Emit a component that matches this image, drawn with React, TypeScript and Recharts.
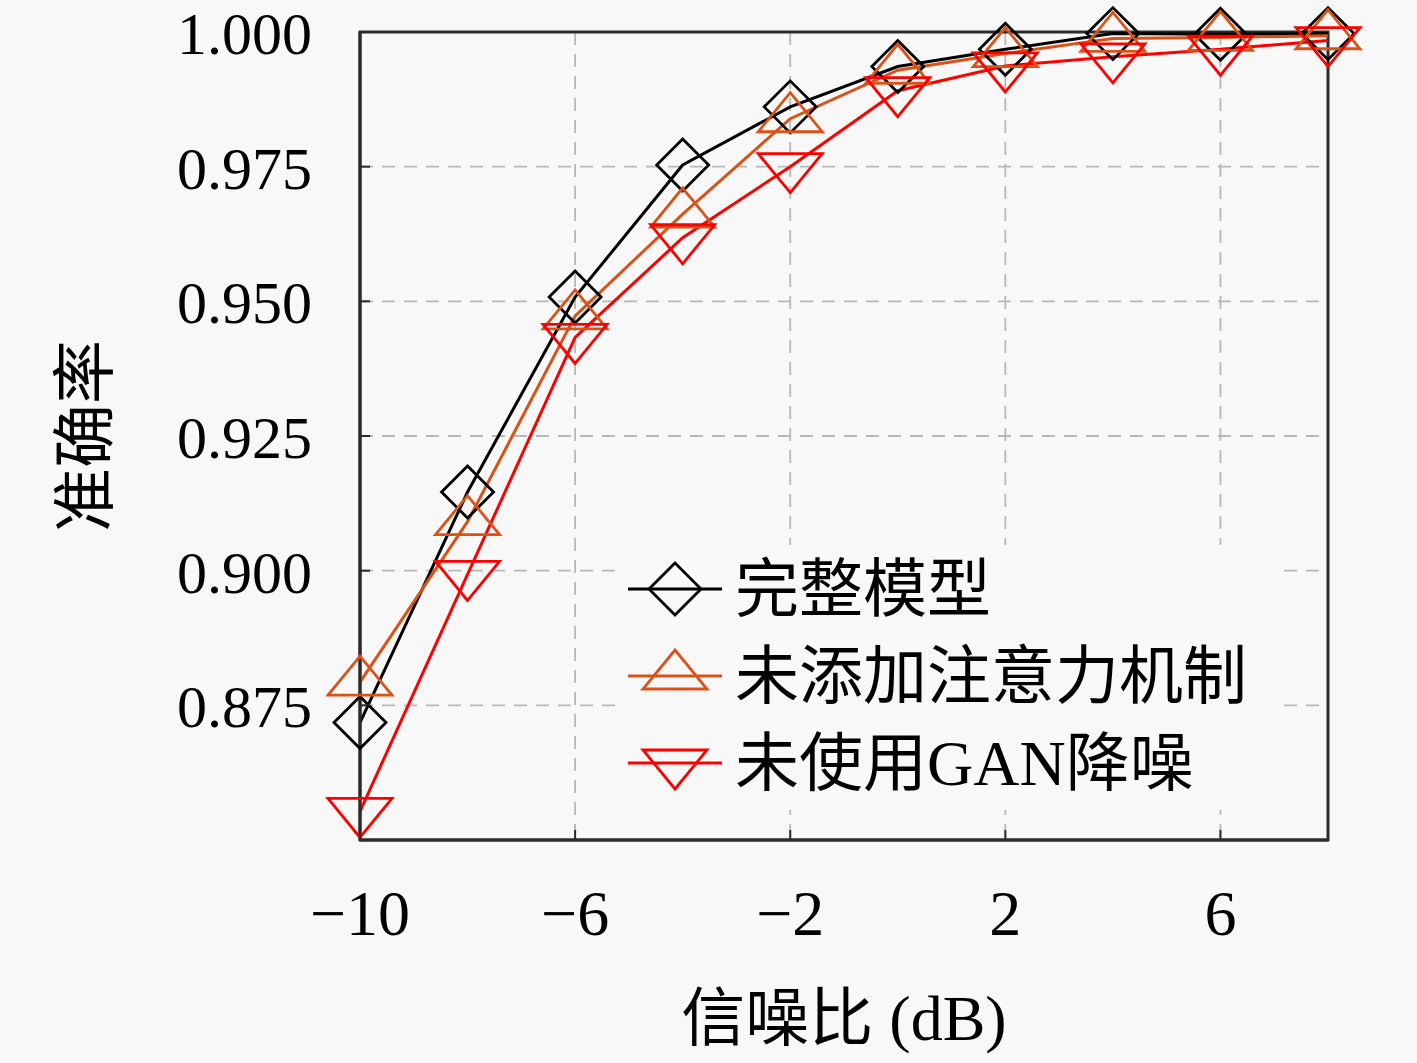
import React from "react";
import {
  LineChart, Line, XAxis, YAxis, CartesianGrid, Legend, ReferenceArea, Label,
} from "recharts";

// SNR (dB) sample points
const snr = [-10, -8, -6, -4, -2, 0, 2, 4, 6, 8];

// accuracy per model variant
const fullModel = [0.8718, 0.9146, 0.9508, 0.9753, 0.9861, 0.9936, 0.9968, 0.9997, 0.9996, 0.9997];
const noAttention = [0.8793, 0.9091, 0.9473, 0.9662, 0.9839, 0.9929, 0.996, 0.9988, 0.999, 0.9993];
const noGan = [0.8553, 0.8993, 0.9433, 0.9618, 0.975, 0.9891, 0.9937, 0.9954, 0.9968, 0.9984];

const xTicks = [-10, -6, -2, 2, 6];
const yTicks = [0.875, 0.9, 0.925, 0.95, 0.975, 1.0];

const BG = "#f8f8f8";
const FONT = "'Liberation Serif', 'Noto Sans CJK SC', serif";

const SERIES = [
  { key: "full", name: "完整模型", color: "#000000", marker: "diamond" },
  { key: "noAttn", name: "未添加注意力机制", color: "#D95319", marker: "up" },
  { key: "noGan", name: "未使用GAN降噪", color: "#FF0000", marker: "down" },
];

const data = snr.map((x, i) => ({
  snr: x,
  full: fullModel[i],
  noAttn: noAttention[i],
  noGan: noGan[i],
}));

function markerPath(type: string, cx: number, cy: number) {
  if (type === "diamond") {
    const r = 26;
    return `M${cx},${cy - r}L${cx + r},${cy}L${cx},${cy + r}L${cx - r},${cy}Z`;
  }
  const w = 32;
  const h = 39;
  if (type === "up") {
    return `M${cx},${cy - (2 * h) / 3}L${cx + w},${cy + h / 3}L${cx - w},${cy + h / 3}Z`;
  }
  return `M${cx},${cy + (2 * h) / 3}L${cx + w},${cy - h / 3}L${cx - w},${cy - h / 3}Z`;
}

const makeDot = (marker: string, color: string, key: string) => (props: any) => {
  const { cx, cy, index } = props;
  if (cx == null || cy == null) return <g key={`${key}-${index}`} />;
  return (
    <path
      key={`${key}-${index}`}
      d={markerPath(marker, cx, cy)}
      fill="none"
      stroke={color}
      strokeWidth={2.8}
    />
  );
};

const YTick = (props: any) => {
  const { x, y, payload } = props;
  return (
    <g>
      <line x1={x} x2={x + 10} y1={y} y2={y} stroke="#2b2b2b" strokeWidth={2} />
      <text x={x - 48} y={y + 22} textAnchor="end" fontSize={60} fontFamily={FONT} fill="#000">
        {payload.value.toFixed(3)}
      </text>
    </g>
  );
};

const XTick = (props: any) => {
  const { x, y, payload } = props;
  const v = payload.value;
  const label = v < 0 ? `\u2212${Math.abs(v)}` : `${v}`;
  return (
    <g>
      <line x1={x} x2={x} y1={y} y2={y - 10} stroke="#2b2b2b" strokeWidth={2} />
      <text x={x} y={y + 95} textAnchor="middle" fontSize={64} fontFamily={FONT} fill="#000">
        {label}
      </text>
    </g>
  );
};

const renderLegend = (props: any) => {
  const payload = props.payload || [];
  return (
    <svg width={660} height={265} style={{ display: "block" }}>
      <rect x={0} y={0} width={660} height={265} fill={BG} />
      {SERIES.map((s, i) => {
        const cy = 44 + i * 87;
        const entry = payload.find((p: any) => p.value === s.name);
        return (
          <g key={s.key}>
            <line x1={13} x2={107} y1={cy} y2={cy} stroke={entry ? entry.color : s.color} strokeWidth={3} />
            <path d={markerPath(s.marker, 60, cy)} fill="none" stroke={s.color} strokeWidth={2.8} />
            <text x={120} y={cy} dominantBaseline="central" fontSize={64} fontFamily={FONT} fill="#000">
              {s.name}
            </text>
          </g>
        );
      })}
    </svg>
  );
};

export default function App() {
  return (
    <div style={{ width: 1417, height: 1063, background: BG }}>
      <style>{`body{margin:0;background:${BG};}`}</style>
      <LineChart
        width={1417}
        height={1063}
        data={data}
        margin={{ top: 32, right: 89, bottom: 0, left: 0 }}
      >
        <CartesianGrid stroke="#b8b8b8" strokeWidth={1.8} strokeDasharray="13 9" />
        <XAxis
          dataKey="snr"
          type="number"
          domain={[-10, 8]}
          ticks={xTicks}
          height={223}
          tickSize={0}
          tickMargin={0}
          tick={<XTick />}
          axisLine={{ stroke: "#2b2b2b", strokeWidth: 3 }}
          tickLine={false}
        >
          <Label value="信噪比 (dB)" position="insideBottom" offset={23} fontSize={64} fontFamily={FONT} fill="#000" />
        </XAxis>
        <YAxis
          type="number"
          domain={[0.85, 1]}
          ticks={yTicks}
          width={360}
          tickSize={0}
          tickMargin={0}
          tick={<YTick />}
          axisLine={{ stroke: "#2b2b2b", strokeWidth: 3 }}
          tickLine={false}
        >
          <Label
            content={({ viewBox }: any) => {
              const cx = viewBox.x + 85;
              const cy = viewBox.y + viewBox.height / 2;
              return (
                <text
                  x={cx}
                  y={cy}
                  transform={`rotate(-90 ${cx} ${cy})`}
                  textAnchor="middle"
                  dominantBaseline="central"
                  fontSize={64}
                  fontFamily={FONT}
                  fill="#000"
                >
                  准确率
                </text>
              );
            }}
          />
        </YAxis>
        <ReferenceArea
          x1={-10}
          x2={8}
          y1={0.85}
          y2={1}
          fill="none"
          stroke="#2b2b2b"
          strokeWidth={3}
          ifOverflow="visible"
        />
        {SERIES.map((s) => (
          <Line
            key={s.key}
            type="linear"
            dataKey={s.key}
            name={s.name}
            stroke={s.color}
            strokeWidth={3}
            dot={makeDot(s.marker, s.color, s.key)}
            activeDot={false}
            isAnimationActive={false}
          />
        ))}
        <Legend
          layout="vertical"
          align="center"
          verticalAlign="middle"
          content={renderLegend}
          wrapperStyle={{ left: 615, top: 545, width: 660, height: 265 }}
        />
      </LineChart>
    </div>
  );
}
